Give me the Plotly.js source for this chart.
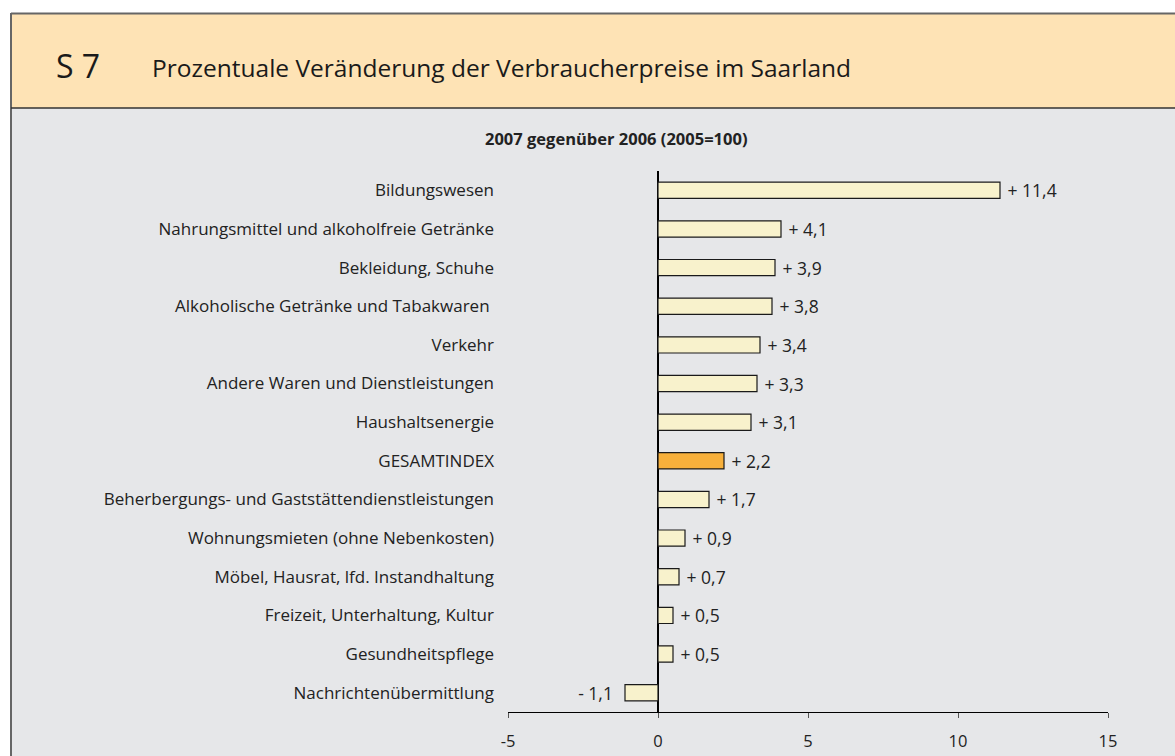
<!DOCTYPE html>
<html>
<head>
<meta charset="utf-8">
<script src="https://cdn.plot.ly/plotly-3.0.1.min.js"></script>
<style>html,body{margin:0;padding:0;background:#fff;}#chart{width:1175px;height:756px;}</style>
</head>
<body>
<div id="chart"></div>
<script>
const categories = [
  "Bildungswesen",
  "Nahrungsmittel und alkoholfreie Getränke",
  "Bekleidung, Schuhe",
  "Alkoholische Getränke und Tabakwaren ",
  "Verkehr",
  "Andere Waren und Dienstleistungen",
  "Haushaltsenergie",
  "GESAMTINDEX",
  "Beherbergungs- und Gaststättendienstleistungen",
  "Wohnungsmieten (ohne Nebenkosten)",
  "Möbel, Hausrat, lfd. Instandhaltung",
  "Freizeit, Unterhaltung, Kultur",
  "Gesundheitspflege",
  "Nachrichtenübermittlung"
];
const values = [11.4, 4.1, 3.9, 3.8, 3.4, 3.3, 3.1, 2.2, 1.7, 0.9, 0.7, 0.5, 0.5, -1.1];
const xTickValues = [-5, 0, 5, 10, 15];
const highlight = "GESAMTINDEX";

const W = 1175, H = 756;
const L = 508, R = 1108, T = 171, B = 712;
const px = x => (x - L) / (R - L);
const py = y => (B - y) / (B - T);

const NB = "\u00a0";
const labels = values.map(v => v >= 0
  ? NB + "+ " + v.toFixed(1).replace(".", ",")
  : "- " + Math.abs(v).toFixed(1).replace(".", ",") + NB + NB);
const colors = categories.map(c => c === highlight ? "#F7B03B" : "#F8F2CC");

const font = "'Open Sans', 'Noto Sans', sans-serif";

const trace = {
  type: "bar",
  orientation: "h",
  y: categories,
  x: values,
  width: 0.42,
  marker: {color: colors, line: {color: "#1a1a1a", width: 1.2}},
  text: labels,
  textposition: "outside",
  constraintext: "none",
  cliponaxis: false,
  textfont: {family: font, size: 17.5, color: "#222"},
  hoverinfo: "skip"
};

const layout = {
  width: W, height: H,
  margin: {l: L, r: W - R, t: T, b: H - B, pad: 0},
  paper_bgcolor: "#ffffff",
  plot_bgcolor: "rgba(0,0,0,0)",
  showlegend: false,
  font: {family: font, size: 16, color: "#222"},
  xaxis: {
    range: [-5, 15],
    tickvals: xTickValues,
    ticktext: xTickValues.map(String),
    showgrid: false,
    zeroline: true, zerolinecolor: "#000", zerolinewidth: 1.2,
    showline: true, linecolor: "#000", linewidth: 1.2,
    ticks: "outside", ticklen: 5, tickcolor: "#555", tickwidth: 1,
    ticklabelstandoff: 9,
    tickfont: {family: font, size: 16.5, color: "#222"},
    fixedrange: true
  },
  yaxis: {
    type: "category",
    range: [categories.length - 0.5, -0.5],
    showgrid: false, zeroline: false, showline: false,
    ticks: "", ticklabelstandoff: 13,
    tickfont: {family: font, size: 17, color: "#222"},
    fixedrange: true
  },
  shapes: [
    {type: "rect", xref: "paper", yref: "paper", layer: "below",
     x0: px(11), x1: px(1180), y0: py(108), y1: py(13),
     fillcolor: "#FEE3B5", line: {width: 0}},
    {type: "rect", xref: "paper", yref: "paper", layer: "below",
     x0: px(11), x1: px(1180), y0: py(760), y1: py(108),
     fillcolor: "#E6E7E9", line: {width: 0}},
    {type: "line", xref: "paper", yref: "paper", layer: "below",
     x0: px(11), x1: px(1180), y0: py(13.5), y1: py(13.5),
     line: {color: "#666", width: 2}},
    {type: "line", xref: "paper", yref: "paper", layer: "below",
     x0: px(11), x1: px(11), y0: py(760), y1: py(13),
     line: {color: "#666", width: 2}},
    {type: "line", xref: "paper", yref: "paper", layer: "below",
     x0: px(11), x1: px(1180), y0: py(108), y1: py(108),
     line: {color: "#333", width: 1.5}}
  ],
  annotations: [
    {xref: "paper", yref: "paper", x: px(54), y: py(66), xanchor: "left", yanchor: "middle",
     text: "S 7", showarrow: false, font: {family: font, size: 32, color: "#1a1a1a"}},
    {xref: "paper", yref: "paper", x: px(150), y: py(67), xanchor: "left", yanchor: "middle",
     text: "Prozentuale Veränderung der Verbraucherpreise im Saarland", showarrow: false,
     font: {family: font, size: 24.5, color: "#1a1a1a"}},
    {xref: "paper", yref: "paper", x: px(616), y: py(139), xanchor: "center", yanchor: "middle",
     text: "<b>2007 gegenüber 2006 (2005=100)</b>", showarrow: false,
     font: {family: font, size: 16.5, color: "#222"}}
  ]
};

Plotly.newPlot("chart", [trace], layout, {displayModeBar: false, staticPlot: true});
</script>
</body>
</html>
